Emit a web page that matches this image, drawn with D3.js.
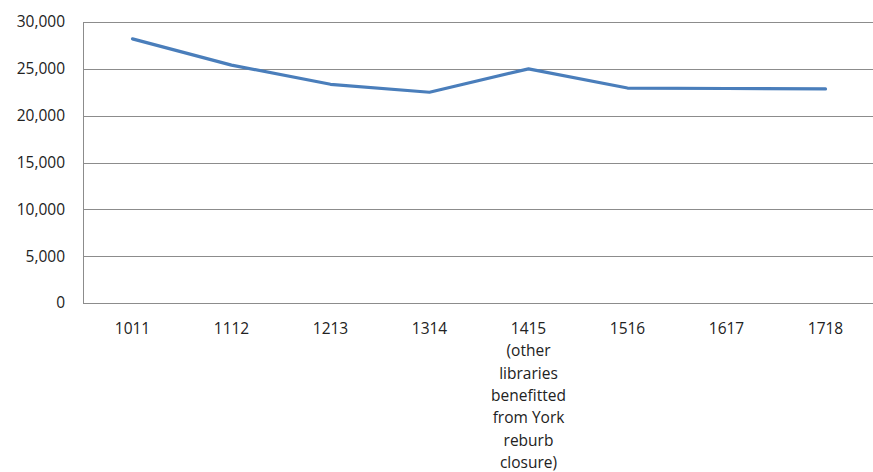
<!DOCTYPE html>
<html>
<head>
<meta charset="utf-8">
<script src="https://cdn.jsdelivr.net/npm/d3@7"></script>
<style>
  body { margin: 0; background: #fff; }
  svg text { font-family: "Open Sans", "Liberation Sans", sans-serif; font-size: 15.5px; fill: #222; }
</style>
</head>
<body>
<main></main>
<script>
// データ
const years = ["1011", "1112", "1213", "1314", "1415", "1516", "1617", "1718"];
const yearNotes = ["", "", "", "", "(other libraries benefitted from York reburb closure)", "", "", ""];
const visits = [28200, 25400, 23350, 22500, 25000, 22950, 22900, 22850];
const yTicks = [0, 5000, 10000, 15000, 20000, 25000, 30000];

const width = 873, height = 472;
const margin = { top: 22, right: -2, bottom: 169, left: 83 };

const svg = d3.select("main").append("svg")
    .attr("width", width)
    .attr("height", height);

const x = d3.scaleBand()
    .domain(years)
    .range([margin.left, width - margin.right]);

const y = d3.scaleLinear()
    .domain([0, 30000])
    .range([height - margin.bottom, margin.top]);

// グリッド線
svg.append("g")
    .selectAll("line")
    .data(yTicks)
    .enter().append("line")
    .attr("x1", margin.left)
    .attr("x2", width)
    .attr("y1", d => Math.round(y(d)) + 0.5)
    .attr("y2", d => Math.round(y(d)) + 0.5)
    .attr("stroke", "#8c8c8c")
    .attr("stroke-width", 1);

// 縦軸の線
svg.append("line")
    .attr("x1", margin.left + 0.5)
    .attr("x2", margin.left + 0.5)
    .attr("y1", y(30000))
    .attr("y2", y(0))
    .attr("stroke", "#8c8c8c");

// Y軸ラベル
svg.append("g")
    .selectAll("text")
    .data(yTicks)
    .enter().append("text")
    .attr("x", 65)
    .attr("y", d => y(d))
    .attr("dy", "0.35em")
    .attr("text-anchor", "end")
    .text(d => d3.format(",")(d));

// X軸ラベル
const xl = svg.append("g")
    .selectAll("text")
    .data(years)
    .enter().append("text")
    .attr("x", d => x(d) + x.bandwidth() / 2)
    .attr("y", 334)
    .attr("text-anchor", "middle");

const noteLines = ["(other", "libraries", "benefitted", "from York", "reburb", "closure)"];
xl.each(function(d, i) {
    const t = d3.select(this);
    const cx = x(d) + x.bandwidth() / 2;
    t.append("tspan").attr("x", cx).text(d);
    if (yearNotes[i]) {
        noteLines.forEach(w => t.append("tspan").attr("x", cx).attr("dy", 22.3).text(w));
    }
});

// 折れ線
const line = d3.line()
    .x((d, i) => x(years[i]) + x.bandwidth() / 2)
    .y(d => y(d));

svg.append("path")
    .datum(visits)
    .attr("fill", "none")
    .attr("stroke", "#4a7ebb")
    .attr("stroke-width", 3.2)
    .attr("stroke-linecap", "round")
    .attr("stroke-linejoin", "round")
    .attr("d", line);
</script>
</body>
</html>
